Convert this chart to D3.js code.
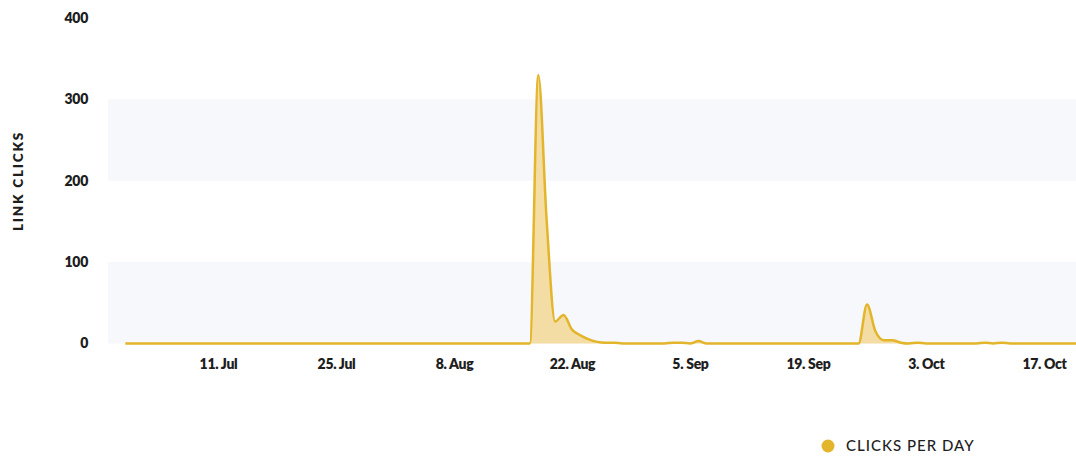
<!DOCTYPE html>
<html>
<head>
<meta charset="utf-8">
<script src="https://cdn.jsdelivr.net/npm/d3@7"></script>
<style>
  body { margin: 0; background: #fff; }
  text { font-family: Lato, "Open Sans", sans-serif; }
</style>
</head>
<body>
<svg id="chart"></svg>
<script>
// daily link clicks, starting 30 Jun
const startDate = "2019-06-30";
const clicks = [
  0, 0, 0, 0, 0, 0, 0, 0, 0, 0, 0, 0, 0, 0, 0, 0, 0, 0, 0, 0,
  0, 0, 0, 0, 0, 0, 0, 0, 0, 0, 0, 0, 0, 0, 0, 0, 0, 0, 0, 0,
  0, 0, 0, 0, 0, 0, 0, 0, 0, 330, 150, 27, 35, 17, 10, 5, 2, 1, 1, 0,
  0, 0, 0, 0, 0, 1, 1, 0, 3, 0, 0, 0, 0, 0, 0, 0, 0, 0, 0, 0,
  0, 0, 0, 0, 0, 0, 0, 0, 48, 15, 4, 4, 1, 0, 1, 0, 0, 0, 0, 0,
  0, 0, 1, 0, 1, 0, 0, 0, 0, 0, 0, 0, 0, 0
];
const xTicks = ["2019-07-11", "2019-07-25", "2019-08-08", "2019-08-22",
  "2019-09-05", "2019-09-19", "2019-10-03", "2019-10-17"];
const yTicks = [0, 100, 200, 300, 400];
const seriesName = "CLICKS PER DAY";
const yTitle = "LINK CLICKS";

const width = 1076;
const height = 457;
const parse = d3.timeParse("%Y-%m-%d");
const start = parse(startDate);
const data = clicks.map((v, i) => ({ date: d3.timeDay.offset(start, i), value: v }));

const svg = d3.select("#chart").attr("width", width).attr("height", height);

const xScale = d3.scaleTime()
  .domain([start, d3.timeDay.offset(start, clicks.length - 1)])
  .range([125.3, 1077.7]);

const yScale = d3.scaleLinear()
  .domain([0, 400])
  .range([343.5, 18]);

// alternating bands
const bands = [[0, 100], [200, 300]];
svg.selectAll(".band")
  .data(bands)
  .enter()
  .append("rect")
  .attr("class", "band")
  .attr("x", 108)
  .attr("width", width - 108)
  .attr("y", (d) => yScale(d[1]))
  .attr("height", (d) => yScale(d[0]) - yScale(d[1]))
  .attr("fill", "#f6f8fc");

// y axis labels
const yAxis = d3.axisLeft(yScale).tickValues(yTicks).tickSize(0).tickPadding(0);
const yg = svg.append("g").attr("transform", "translate(88,0)").call(yAxis);
yg.select(".domain").remove();
yg.selectAll("text")
  .attr("fill", "#1e1e1e")
  .style("font-size", "14px")
  .style("font-weight", "800")
  .style("letter-spacing", "-0.3px")
  .style("font-family", "Lato, sans-serif");

svg.append("text")
  .attr("transform", "translate(23,181) rotate(-90)")
  .attr("text-anchor", "middle")
  .attr("fill", "#1e1e1e")
  .style("font-size", "13.5px")
  .style("font-weight", "800")
  .style("letter-spacing", "1.8px")
  .text(yTitle);

// x axis labels
const xAxis = d3.axisBottom(xScale)
  .tickValues(xTicks.map(parse))
  .tickFormat(d3.timeFormat("%-d. %b"))
  .tickSize(0)
  .tickPadding(0);
const xg = svg.append("g").attr("transform", "translate(0,359)").call(xAxis);
xg.select(".domain").remove();
xg.selectAll("text")
  .attr("fill", "#1e1e1e")
  .style("font-size", "14px")
  .style("font-weight", "800")
  .style("letter-spacing", "-0.3px")
  .style("font-family", "Lato, sans-serif");

// area + line
const area = d3.area()
  .x((d) => xScale(d.date))
  .y0(yScale(0))
  .y1((d) => yScale(d.value))
  .curve(d3.curveMonotoneX);

const line = d3.line()
  .x((d) => xScale(d.date))
  .y((d) => yScale(d.value))
  .curve(d3.curveMonotoneX);

svg.append("path")
  .datum(data)
  .attr("d", area)
  .attr("fill", "#f3d894")
  .attr("fill-opacity", 0.85);

svg.append("path")
  .datum(data)
  .attr("d", line)
  .attr("fill", "none")
  .attr("stroke", "#e3b52a")
  .attr("stroke-width", 2.5)
  .attr("stroke-linejoin", "round");

// legend
const legend = svg.append("g").attr("transform", "translate(828,446)");
legend.append("circle").attr("r", 6.5).attr("fill", "#e3b52a");
legend.append("text")
  .attr("x", 18)
  .attr("dy", "0.36em")
  .attr("fill", "#1e1e1e")
  .style("font-size", "15px")
  .style("font-weight", "500")
  .style("letter-spacing", "1px")
  .text(seriesName);
</script>
</body>
</html>
